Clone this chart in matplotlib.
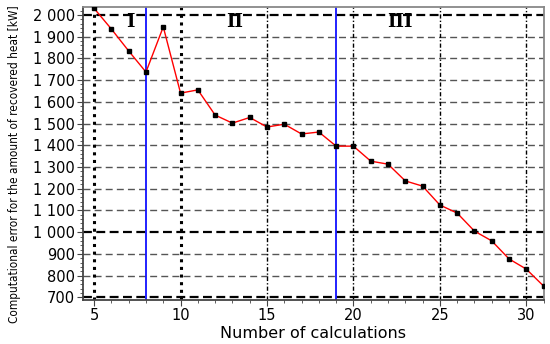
import matplotlib
matplotlib.use('Agg')
import matplotlib.pyplot as plt
from matplotlib.ticker import FuncFormatter, MultipleLocator

# number of calculations and computational error [kW]
calc = [5, 6, 7, 8, 9, 10, 11, 12, 13, 14, 15, 16, 17, 18,
        19, 20, 21, 22, 23, 24, 25, 26, 27, 28, 29, 30, 31]
error = [2030, 1935, 1834, 1737, 1945, 1640, 1655, 1539, 1502, 1528, 1484, 1497, 1452, 1461,
         1396, 1396, 1327, 1313, 1236, 1212, 1125, 1088, 1005, 960, 877, 830, 752]

borders = [8, 19]
regions = ['I', 'II', 'III']
region_x = [7.1, 13.1, 22.7]

fig = plt.figure(figsize=(5.5, 3.44), dpi=100)
ax = fig.add_axes([0.151, 0.128, 0.838, 0.852])

# grid
for y in range(800, 2000, 100):
    if y == 1000:
        continue
    ax.axhline(y, color='#555555', ls=(0, (5, 3)), lw=1.0, zorder=1)
for y in [700, 1000, 2000]:
    ax.axhline(y, color='black', ls=(0, (4, 2)), lw=1.6, zorder=1)
for x in [15, 20, 25, 30]:
    ax.axvline(x, color='black', ls=(0, (3, 1.5, 1, 1.5)), lw=1.0, zorder=1)
for x in [5, 10]:
    ax.axvline(x, color='black', ls=(0, (1, 1.5)), lw=2.2, zorder=1)

for b in borders:
    ax.axvline(b, color='#1010ff', lw=1.3, zorder=2)

ax.plot(calc, error, color='red', lw=1.0, marker='s', ms=2.6,
        mfc='black', mec='black', zorder=3)

for r, x in zip(regions, region_x):
    ax.text(x, 1968, r, fontsize=13, fontweight='heavy', family='DejaVu Serif',
            ha='center', va='center')

ax.set_xlim(4.36, 31.02)
ax.set_ylim(688, 2037)
ax.xaxis.set_major_locator(MultipleLocator(5))
ax.xaxis.set_minor_locator(MultipleLocator(1))
ax.yaxis.set_major_locator(MultipleLocator(100))
ax.yaxis.set_minor_locator(MultipleLocator(20))
ax.yaxis.set_major_formatter(FuncFormatter(lambda v, p: '{:,.0f}'.format(v).replace(',', ' ')))

ax.tick_params(which='major', length=4, color='#444444', labelsize=10.5, pad=2)
ax.tick_params(which='minor', length=2, color='#444444')
for s in ['left', 'bottom']:
    ax.spines[s].set_color('#444444')
    ax.spines[s].set_linewidth(1.3)
for s in ['top', 'right']:
    ax.spines[s].set_color('#888888')
    ax.spines[s].set_linewidth(1.3)

ax.set_xlabel('Number of calculations', fontsize=11.5, labelpad=2)
ax.set_ylabel('Computational error for the amount of recovered heat [kW]',
              fontsize=8.5, family='DejaVu Sans', stretch='condensed')
ax.yaxis.set_label_coords(-0.135, 0.462)

plt.savefig('out.png', dpi=100)
